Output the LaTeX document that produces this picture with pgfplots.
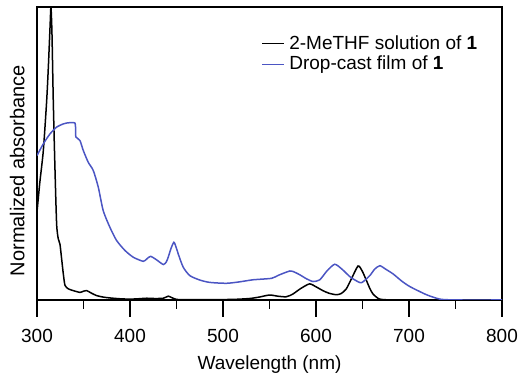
\documentclass[border=0pt]{standalone}
\usepackage{pgfplots}
\pgfplotsset{compat=1.18}
\usepackage{fontspec}
\setmainfont{Liberation Sans}
\definecolor{filmblue}{RGB}{75,85,195}
\begin{document}
\fontsize{19bp}{22bp}\selectfont
\begin{tikzpicture}
\begin{axis}[
  scale only axis,
  width=465bp, height=293bp,
  xmin=300, xmax=800, ymin=0, ymax=1,
  xtick={300,400,...,800},
  minor x tick num=1,
  ytick=\empty,
  xtick pos=lower,
  tick align=outside,
  major tick length=17bp,
  minor tick length=9bp,
  axis line style={line width=1.5bp},
  every tick/.style={black, line width=1.5bp},
  /pgf/number format/assume math mode=true,
  /pgf/number format/1000 sep={},
  xticklabel style={inner sep=0pt, yshift=-12bp},
  xlabel={Wavelength (nm)},
  xlabel style={at={(rel axis cs:0.5,0)}, anchor=base, yshift=-70bp},
  ylabel={\fontsize{20bp}{22bp}\selectfont Normalized absorbance},
  ylabel style={at={([xshift=-12.5bp]rel axis cs:0,0.442)}, anchor=base},
  legend style={draw=none, fill=none, at={(rel axis cs:0.476,0.915)}, anchor=north west,
    row sep=1bp, nodes={inner sep=1.5bp}},
  legend cell align=left,
  legend image code/.code={\draw[#1, line width=1.1bp] (0bp,0bp) -- (22bp,0bp); \path (25bp,0bp);},
]
\addplot[black, line width=1.5bp, smooth, tension=0.4] coordinates {
(300,0.30) (303,0.40) (306.8,0.51) (310.4,0.68) (312.2,0.795) (314,0.93) (315,1.0)
(316.1,0.91) (317.5,0.68) (319.3,0.45) (321.1,0.26) (322.8,0.21) (324.7,0.19) (326.5,0.14)
(328.3,0.089) (330.1,0.05) (333.7,0.038) (339,0.032) (346.2,0.026) (350,0.03) (353.4,0.032)
(356,0.028) (358.7,0.023) (364.1,0.015) (371,0.01) (378.4,0.007) (390,0.004) (399.9,0.003)
(408,0.004) (417.8,0.006) (427,0.005) (435.8,0.006) (441.1,0.013) (445,0.008) (450.1,0.002)
(462,0.001) (480,0.001) (510.5,0.002) (528.4,0.005) (539,0.01) (550,0.017) (559,0.013)
(568,0.011) (575,0.02) (583,0.038) (593,0.055) (600,0.045) (607.4,0.032) (614,0.023)
(621.9,0.018) (627,0.022) (632.6,0.038) (638.5,0.075) (645.2,0.116) (649.5,0.1) (654.3,0.066)
(657.8,0.04) (661.4,0.02) (668.6,0.003) (682.9,0) (700,0) (800,0)
};
\addlegendentry{2-MeTHF solution of \textbf{1}}
\addplot[filmblue, line width=1.5bp, smooth, tension=0.4] coordinates {
(300,0.493) (306.8,0.533) (314,0.567) (321.1,0.59) (328.3,0.601) (331.9,0.604) (340.8,0.604)
(341.4,0.57) (341.9,0.556) (346.2,0.544) (349.8,0.51) (355.1,0.47) (360.5,0.442) (365.9,0.385)
(371.2,0.305) (378.4,0.248) (385.6,0.203) (394.6,0.169) (403.5,0.146) (414.2,0.132)
(418,0.14) (422.1,0.149) (428.6,0.137) (435.8,0.121) (439,0.13) (441.1,0.146) (444,0.175)
(447.2,0.197) (449.6,0.18) (451.9,0.157) (457.2,0.112) (464.4,0.083) (475.2,0.068) (485.9,0.06)
(503.8,0.057) (518,0.062) (532.4,0.069) (552.2,0.074) (560,0.085) (571.9,0.099) (577,0.095)
(582.6,0.086) (590,0.072) (596.9,0.063) (604.1,0.069) (612,0.1) (620.2,0.122) (628,0.105)
(636.3,0.08) (642,0.068) (648.9,0.059) (657.8,0.083) (663,0.105) (668.6,0.117) (675,0.105)
(682.9,0.089) (692,0.065) (700.8,0.046) (718.8,0.018) (733.1,0.003) (745,0.0005) (754.5,0) (800,0)
};
\addlegendentry{Drop-cast film of \textbf{1}}
\end{axis}
\path ([shift={(-37bp,-74bp)}]current axis.south west) rectangle ([shift={(29bp,7bp)}]current axis.north east);
\end{tikzpicture}
\end{document}
